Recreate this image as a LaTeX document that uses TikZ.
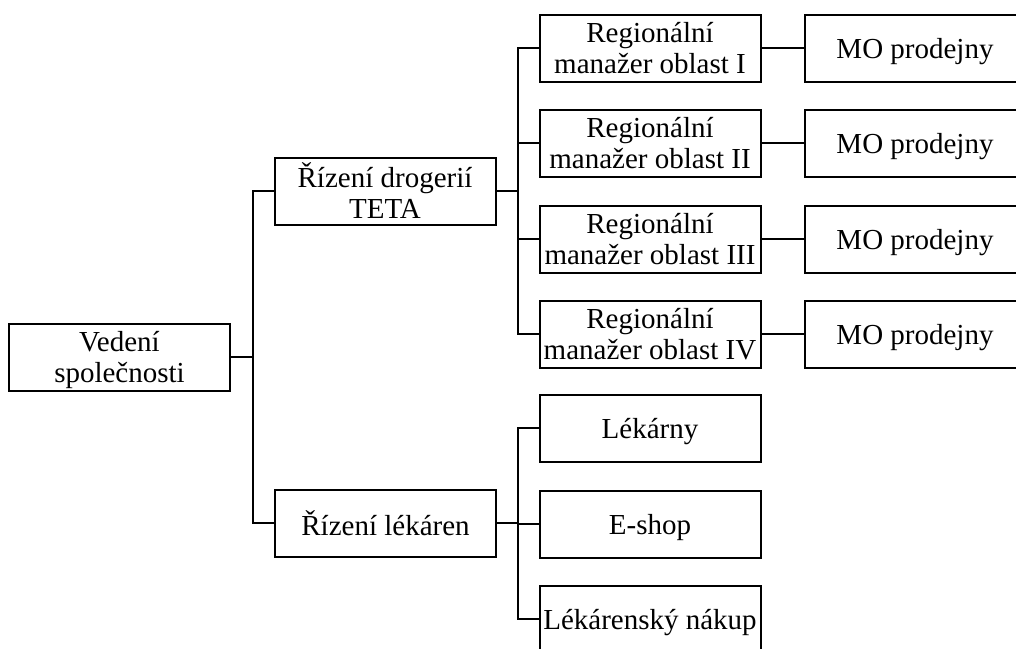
\documentclass[tikz,border=0pt]{standalone}
\usepackage{fontspec}
\setmainfont{Liberation Serif}
\usetikzlibrary{positioning}

\begin{document}
\begin{tikzpicture}[x=1pt,y=-1pt,
  box/.style={draw,line width=2pt,minimum width=221pt,minimum height=67pt,
    inner sep=0pt,align=center,text depth=0pt,font=\fontsize{29}{31}\selectfont},
  link/.style={line width=2pt}]
  \clip (0,0) rectangle (1016,648);
  \node[box] (ved) at (119.5,357) {Vedení\\společnosti};
  \node[box] (rd) at (385,191) {Řízení drogerií\\TETA};
  \node[box] (rl) at (385.5,523) {Řízení lékáren};
  \foreach \i/\r/\y in {1/I/48,2/II/143,3/III/239,4/IV/334} {
    \node[box] (reg\i) at (650,\y) {Regionální\\manažer oblast \r};
    \node[box] (mo\i) at (915,\y) {MO prodejny};
    \draw[link] (reg\i) -- (mo\i);
  }
  \node[box] (lek) at (650,428) {Lékárny};
  \node[box] (esh) at (650,524) {E-shop};
  \node[box] (nak) at (650,619) {Lékárenský nákup};
  \coordinate (j0) at (252.5,357);
  \coordinate (j1) at (517.5,191);
  \coordinate (j2) at (517.5,523);
  \draw[link] (ved.east) -- (j0) |- (rd.west);
  \draw[link] (j0) |- (rl.west);
  \draw[link] (rd.east) -- (j1);
  \foreach \i in {1,...,4}
    \draw[link] (j1) |- (reg\i.west);
  \draw[link] (rl.east) -- (j2);
  \draw[link] (j2) |- (lek.west);
  \draw[link] (j2) |- (esh.west);
  \draw[link] (j2) |- (nak.west);
\end{tikzpicture}
\end{document}
